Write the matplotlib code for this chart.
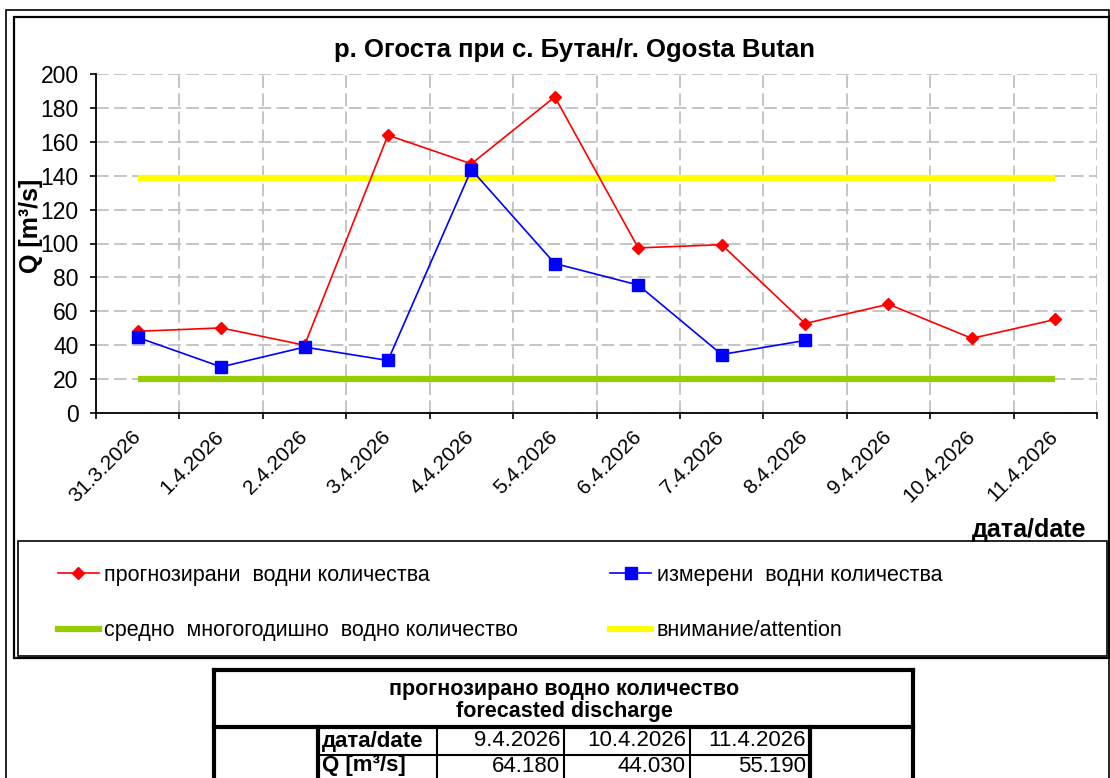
import matplotlib
matplotlib.use("Agg")
import matplotlib.pyplot as plt
from matplotlib.lines import Line2D
from matplotlib.patches import Rectangle

plt.rcParams['font.family'] = ['Liberation Sans', 'DejaVu Sans']

# data
dates = ['31.3.2026', '1.4.2026', '2.4.2026', '3.4.2026', '4.4.2026', '5.4.2026',
         '6.4.2026', '7.4.2026', '8.4.2026', '9.4.2026', '10.4.2026', '11.4.2026']
forecast = [48.2, 50.2, 40.0, 163.9, 147.0, 186.5, 97.4, 99.3, 52.8, 64.18, 44.03, 55.19]
measured = [44.6, 27.2, 38.9, 31.0, 143.6, 88.2, 75.5, 34.5, 42.8]
mean_flow = 19.8
attention = 138.8

table_dates = ['9.4.2026', '10.4.2026', '11.4.2026']
table_q = [64.180, 44.030, 55.190]

W, H = 1110, 778


def fx(x):
    return x / W


def fy(y):
    return 1 - y / H


fig = plt.figure(figsize=(W / 100, H / 100), dpi=100)
ax = fig.add_axes([fx(96), fy(413), fx(1097) - fx(96), fy(74) - fy(413)])

xs = list(range(len(dates)))
ax.plot(xs, [attention] * len(xs), color='#FFFF00', lw=4.5, solid_capstyle='butt', zorder=2)
ax.plot(xs, [mean_flow] * len(xs), color='#99CC00', lw=4.5, solid_capstyle='butt', zorder=2)
ax.plot(xs, forecast, color='#FF0000', lw=1.2, marker='D', ms=6.5, zorder=3)
ax.plot(xs[:len(measured)], measured, color='#0000FF', lw=1.2, marker='s', ms=8, zorder=4)

ax.set_xlim(-0.5, len(dates) - 0.5)
ax.set_ylim(0, 200)
ax.set_yticks(range(0, 201, 20))
ax.set_xticks([i - 0.5 for i in range(len(dates) + 1)])
ax.set_xticklabels([])
ax.set_xticks(xs, minor=True)
ax.set_xticklabels(dates, minor=True, rotation=45, ha='right', va='center',
                   rotation_mode='anchor', fontsize=15)
ax.tick_params(axis='x', which='minor', length=0, pad=15)
ax.tick_params(axis='x', which='major', length=4.5, width=1.2, direction='out')
ax.tick_params(axis='y', length=4.5, width=1.2, labelsize=16.5, pad=8)
ax.grid(True, which='major', color='#C0C0C0', ls=(0, (7, 3)), lw=1.3)
ax.set_axisbelow(True)
for s in ['top', 'right']:
    ax.spines[s].set_visible(False)
for s in ['left', 'bottom']:
    ax.spines[s].set_linewidth(1.3)

fig.text(fx(574), fy(50), 'р. Огоста при с. Бутан/r. Ogosta Butan', ha='center', va='center',
         fontsize=18.5, fontweight='bold')
fig.text(fx(31), fy(226), 'Q [m³/s]', ha='center', va='center', rotation=90,
         fontsize=18, fontweight='bold')
fig.text(fx(1086), fy(530), 'дата/date', ha='right', va='center', fontsize=18, fontweight='bold')

# frames
fig.patches.append(Rectangle((fx(6), fy(800)), fx(1109) - fx(6), fy(10) - fy(800),
                             transform=fig.transFigure, fill=False, ec='black', lw=1.2))
fig.patches.append(Rectangle((fx(14), fy(658)), fx(1109) - fx(14), fy(17) - fy(658),
                             transform=fig.transFigure, fill=False, ec='black', lw=1.6))
fig.patches.append(Rectangle((fx(18), fy(656)), fx(1107) - fx(18), fy(541) - fy(656),
                             transform=fig.transFigure, fill=False, ec='black', lw=1.2))

# legend
handles = [
    Line2D([], [], color='#FF0000', lw=1.2, marker='D', ms=6.5),
    Line2D([], [], color='#99CC00', lw=4.5),
    Line2D([], [], color='#0000FF', lw=1.2, marker='s', ms=8),
    Line2D([], [], color='#FFFF00', lw=4.5),
]
labels = ['прогнозирани  водни количества', 'средно  многогодишно  водно количество',
          'измерени  водни количества', 'внимание/attention']
fig.legend(handles, labels, loc='upper left', bbox_to_anchor=(fx(49), fy(556)), ncol=2,
           frameon=False, fontsize=15.5, handlelength=1.9, handletextpad=0.25,
           columnspacing=4.3, labelspacing=1.6, borderaxespad=0)

# table
L, R, T, HB, RS, BOT = 214, 913, 670, 727, 755, 790
thick, thin = 3.0, 1.5


def hline(x0, x1, y, lw):
    fig.add_artist(Line2D([fx(x0), fx(x1)], [fy(y), fy(y)], color='black', lw=lw,
                          transform=fig.transFigure))


def vline(x, y0, y1, lw):
    fig.add_artist(Line2D([fx(x), fx(x)], [fy(y0), fy(y1)], color='black', lw=lw,
                          transform=fig.transFigure))


hline(L, R, T, thick)
hline(L, R, HB, thick)
vline(L, T, BOT, thick)
vline(R, T, BOT, thick)
vline(318, HB, BOT, thick)
vline(437, HB, BOT, thin)
vline(564, HB, BOT, thin)
vline(690, HB, BOT, thin)
vline(810, HB, BOT, thick)
hline(318, 810, RS, thin)

fig.text(fx(564), fy(689), 'прогнозирано водно количество', ha='center', va='center',
         fontsize=15.5, fontweight='bold')
fig.text(fx(564), fy(712), 'forecasted discharge', ha='center', va='center',
         fontsize=15.5, fontweight='bold')
fig.text(fx(322), fy(741), 'дата/date', ha='left', va='center', fontsize=16,
         fontweight='bold')
fig.text(fx(322), fy(766), 'Q [m³/s]', ha='left', va='center', fontsize=16,
         fontweight='bold')
col_right = [560, 686, 806]
for xr, d, q in zip(col_right, table_dates, table_q):
    fig.text(fx(xr), fy(741), d, ha='right', va='center', fontsize=16)
    fig.text(fx(xr), fy(766), f'{q:.3f}', ha='right', va='center', fontsize=16)

fig.savefig('out.png', dpi=100)
